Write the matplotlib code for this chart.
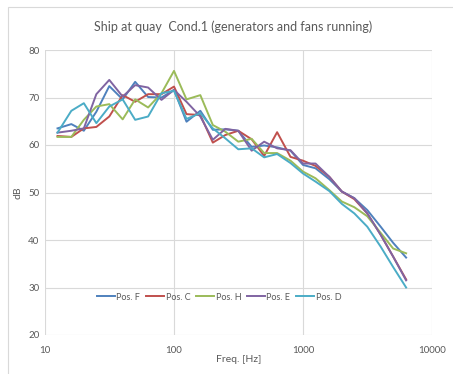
import matplotlib
matplotlib.use("Agg")
import matplotlib.pyplot as plt
from matplotlib.patches import Rectangle

plt.rcParams['font.family'] = ['Lato', 'DejaVu Sans']

freqs = [12.5, 16, 20, 25, 31.5, 40, 50, 63, 80, 100, 125, 160, 200, 250, 315, 400,
         500, 630, 800, 1000, 1250, 1600, 2000, 2500, 3150, 4000, 5000, 6300]

pos_f = [63.5, 64.4, 63.0, 67.0, 72.4, 69.6, 73.3, 70.1, 70.0, 71.6, 64.9, 67.2, 63.2, 63.3,
         63.0, 59.6, 59.9, 59.5, 58.8, 55.8, 55.1, 52.8, 50.2, 48.8, 46.3, 42.8, 39.4, 36.3]
pos_c = [61.9, 61.7, 63.5, 63.8, 66.0, 70.5, 69.1, 70.7, 70.7, 72.3, 66.5, 66.3, 60.5, 62.1,
         63.0, 61.2, 57.7, 62.7, 57.5, 56.7, 55.6, 53.3, 50.2, 48.6, 45.6, 41.1, 36.5, 31.7]
pos_h = [61.7, 61.7, 65.3, 68.1, 68.6, 65.4, 69.6, 67.9, 70.9, 75.6, 69.6, 70.5, 64.2, 62.8,
         60.7, 61.3, 58.3, 58.3, 56.7, 54.4, 53.0, 50.5, 48.1, 46.9, 45.0, 41.5, 38.2, 37.2]
pos_e = [62.6, 63.0, 63.5, 70.7, 73.7, 70.2, 72.6, 72.1, 69.5, 71.6, 69.1, 66.0, 61.1, 63.4,
         63.0, 58.8, 60.7, 59.3, 58.9, 56.1, 56.1, 53.3, 50.2, 48.8, 45.6, 41.1, 36.5, 31.5]
pos_d = [62.6, 67.2, 68.8, 64.6, 68.1, 69.6, 65.3, 66.0, 70.9, 71.4, 65.5, 66.7, 63.5, 61.4,
         59.1, 59.3, 57.4, 58.1, 56.2, 54.0, 52.3, 50.3, 47.6, 45.6, 42.8, 38.6, 34.3, 30.0]

series = [("Pos. F", pos_f, "#4F81BD"),
          ("Pos. C", pos_c, "#C0504D"),
          ("Pos. H", pos_h, "#9BBB59"),
          ("Pos. E", pos_e, "#8064A2"),
          ("Pos. D", pos_d, "#4BACC6")]

fig = plt.figure(figsize=(4.53, 3.74), dpi=100)
fig.patches.append(Rectangle((8 / 453, -0.1), 1.2, (374 - 7) / 374 + 0.1,
                             transform=fig.transFigure, fill=False,
                             edgecolor="#D9D9D9", linewidth=0.8))
ax = fig.add_axes([45 / 453, 1 - 335 / 374, 387 / 453, 285 / 374])

for name, vals, col in series:
    ax.plot(freqs, vals, color=col, linewidth=1.4, label=name)

ax.set_xscale('log')
ax.set_xlim(10, 10000)
ax.set_ylim(20, 80)
ax.set_yticks([20, 30, 40, 50, 60, 70, 80])
ax.set_xticks([10, 100, 1000, 10000])
ax.set_xticklabels(["10", "100", "1000", "10000"])
ax.minorticks_off()
ax.grid(True, color="#D9D9D9", linewidth=0.8)
ax.set_axisbelow(True)
for s in ax.spines.values():
    s.set_visible(False)
ax.tick_params(length=0, labelsize=7, colors="#595959", pad=4)
ax.tick_params(axis='x', pad=8)

ax.set_xlabel("Freq. [Hz]", fontsize=7.5, color="#595959", labelpad=0)
ax.set_ylabel("dB", fontsize=7.5, color="#595959", labelpad=4)
fig.text(233 / 453, 1 - 27 / 374, "Ship at quay  Cond.1 (generators and fans running)",
         ha='center', va='center', fontsize=9, color="#595959")

leg = ax.legend(loc='center', bbox_to_anchor=((219 - 45) / 387, (335 - 297) / 285),
                ncol=5, frameon=False, fontsize=6.5, handlelength=2.0, handletextpad=0.2,
                columnspacing=0.6, labelcolor="#595959")

fig.savefig("out.png", dpi=100)
